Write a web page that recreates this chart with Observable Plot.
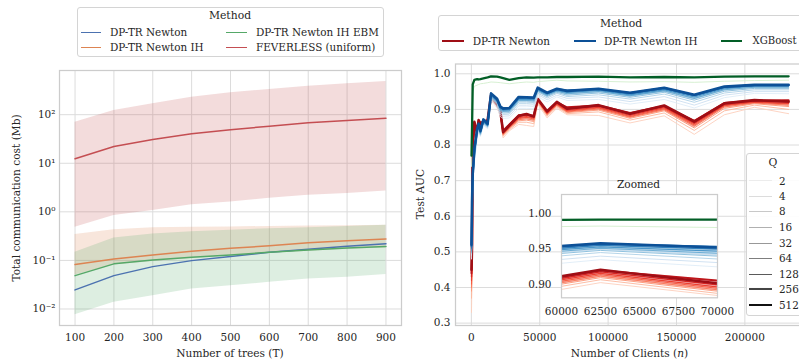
<!DOCTYPE html>
<html><head><meta charset="utf-8">
<script src="https://cdn.jsdelivr.net/npm/d3@7"></script>
<script src="https://cdn.jsdelivr.net/npm/@observablehq/plot@0.6"></script>
<style>
body{margin:0;background:#fff;}
#wrap{position:relative;width:799px;height:362px;overflow:hidden;font-family:"DejaVu Serif",serif;color:#262626;background:#fff}
#wrap svg{position:absolute;overflow:visible}
.t{position:absolute;white-space:nowrap;line-height:1;}
.box{position:absolute;border:1px solid #d4d4d4;border-radius:3px;background:rgba(255,255,255,0.9);box-sizing:border-box}
.ln{position:absolute;}
</style></head>
<body><div id="wrap"></div>
<script>
// ---------- Left panel data ----------
const trees = [100,200,300,400,500,600,700,800,900];
const newtonCost    = [0.0247,0.0486,0.0745,0.099,0.12,0.147,0.17,0.195,0.22];
const ihCost        = [0.082,0.107,0.13,0.154,0.178,0.20,0.23,0.255,0.277];
const ebmCost       = [0.0486,0.085,0.102,0.116,0.13,0.147,0.164,0.18,0.193];
const feverlessCost = [12.4,22.2,31,40.5,49,58,68,76,85];
const feverlessLo   = [0.48,0.84,1.06,1.4,1.6,1.9,2.2,2.4,2.7];
const feverlessHi   = [70,122,169,230,283,331,383,436,485];
const ihLo          = [0.05,0.08,0.095,0.11,0.125,0.14,0.155,0.17,0.18];
const ihHi          = [0.34,0.43,0.47,0.48,0.49,0.50,0.51,0.52,0.53];
const ebmLo         = [0.0076,0.0137,0.0188,0.0258,0.030,0.0354,0.0415,0.045,0.051];
const ebmHi         = [0.147,0.29,0.35,0.39,0.42,0.45,0.47,0.50,0.53];
const costTicks      = [0.01,0.1,1,10,100];
const costTickLabels = ["10\u207B\u00B2","10\u207B\u00B9","10\u2070","10\u00B9","10\u00B2"];
const leftMethods = ["DP-TR Newton","DP-TR Newton IH","DP-TR Newton IH EBM","FEVERLESS (uniform)"];

// ---------- Right panel data ----------
const clients = [100,500,1000,2200,4200,5300,6600,8800,11900,14400,18800,21200,23200,27800,34600,40300,45600,48500,55400,62500,70000,93000,116000,141000,163000,185000,207000,232000];
const qValues = [2,4,8,16,32,64,128,256,512];
const newtonQ512 = [.450,.520,.800,.865,.835,.870,.860,.865,.870,.940,.915,.895,.836,.855,.882,.887,.880,.930,.895,.921,.902,.912,.888,.911,.866,.917,.926,.922];
const newtonQ256 = [.440,.515,.805,.862,.838,.868,.862,.866,.868,.938,.914,.893,.840,.858,.884,.886,.882,.928,.894,.920,.906,.911,.890,.910,.868,.918,.925,.926];
const newtonQ128 = [.430,.505,.795,.860,.840,.865,.858,.863,.866,.936,.912,.891,.838,.856,.880,.884,.879,.927,.892,.918,.900,.909,.886,.908,.863,.915,.924,.920];
const newtonQ64  = [.420,.500,.790,.858,.836,.866,.857,.862,.867,.935,.913,.890,.834,.852,.877,.880,.876,.926,.890,.916,.897,.906,.883,.905,.860,.912,.921,.917];
const newtonQ32  = [.410,.495,.792,.857,.832,.864,.855,.860,.864,.934,.911,.888,.832,.850,.874,.878,.873,.925,.888,.914,.895,.904,.880,.902,.856,.910,.920,.915];
const newtonQ16  = [.400,.490,.788,.855,.830,.862,.854,.859,.866,.932,.910,.887,.830,.848,.871,.874,.870,.923,.886,.912,.893,.901,.878,.899,.853,.907,.918,.912];
const newtonQ8   = [.390,.480,.785,.854,.828,.863,.852,.858,.865,.931,.909,.885,.828,.846,.868,.870,.866,.921,.884,.910,.891,.898,.875,.896,.848,.903,.916,.908];
const newtonQ4   = [.370,.470,.782,.852,.825,.861,.851,.856,.864,.929,.907,.883,.825,.843,.864,.864,.860,.919,.881,.907,.888,.893,.870,.890,.841,.896,.912,.900];
const newtonQ2   = [.330,.450,.780,.850,.820,.860,.850,.855,.865,.925,.905,.880,.820,.840,.858,.855,.852,.915,.876,.903,.885,.883,.862,.882,.830,.885,.906,.888];
const ihQ512 = [.520,.640,.720,.790,.845,.860,.840,.872,.860,.945,.930,.908,.903,.904,.935,.934,.933,.961,.947,.958,.952,.958,.947,.961,.941,.964,.969,.969];
const ihQ256 = [.515,.630,.715,.785,.842,.857,.838,.870,.858,.943,.928,.906,.902,.903,.933,.933,.932,.959,.946,.957,.953,.957,.946,.960,.940,.963,.968,.968];
const ihQ128 = [.510,.620,.710,.780,.840,.855,.836,.868,.856,.941,.926,.904,.900,.901,.931,.931,.930,.957,.944,.955,.950,.955,.944,.958,.938,.961,.967,.967];
const ihQ64  = [.505,.610,.705,.775,.836,.852,.834,.866,.855,.939,.924,.901,.897,.898,.928,.928,.927,.955,.942,.953,.947,.953,.941,.955,.935,.958,.965,.965];
const ihQ32  = [.500,.600,.700,.770,.833,.850,.832,.864,.853,.937,.921,.898,.894,.895,.925,.925,.924,.953,.939,.951,.944,.950,.938,.952,.931,.955,.962,.962];
const ihQ16  = [.500,.590,.695,.765,.830,.848,.830,.862,.852,.935,.918,.895,.890,.891,.921,.921,.920,.950,.936,.948,.940,.946,.934,.948,.926,.951,.959,.959];
const ihQ8   = [.495,.580,.690,.760,.826,.845,.828,.860,.850,.932,.914,.891,.886,.887,.916,.916,.915,.946,.932,.945,.936,.941,.929,.943,.920,.946,.955,.955];
const ihQ4   = [.490,.570,.685,.755,.822,.842,.826,.858,.848,.929,.910,.886,.881,.882,.910,.910,.909,.942,.927,.940,.931,.935,.922,.936,.912,.940,.950,.950];
const ihQ2   = [.480,.560,.680,.750,.818,.840,.824,.855,.846,.925,.905,.880,.875,.876,.903,.903,.902,.936,.921,.935,.925,.928,.915,.928,.904,.933,.945,.944];
const xgbQ512 = [.770,.850,.970,.983,.985,.984,.985,.987,.990,.993,.992,.990,.988,.983,.988,.990,.989,.990,.990,.991,.991,.992,.990,.991,.990,.992,.993,.993];
const xgbQ2   = [.740,.830,.950,.965,.968,.970,.972,.973,.975,.977,.976,.975,.974,.972,.975,.977,.976,.978,.980,.982,.980,.979,.977,.978,.976,.979,.981,.982];
const clientTicks = [0,50000,100000,150000,200000];
const aucTicks = [0.3,0.4,0.5,0.6,0.7,0.8,0.9,1.0];
const zoomXTicks = [60000,62500,65000,67500,70000];
const zoomYTicks = [0.90,0.95,1.00];
const rightMethods = ["DP-TR Newton","DP-TR Newton IH","XGBoost"];

// ---------- styles ----------
const deep = ["#4c72b0","#dd8452","#55a868","#c44e52"];
const redColors  = qValues.map((q,i)=>d3.interpolateReds(0.18 + i*0.0875));
const blueColors = qValues.map((q,i)=>d3.interpolateBlues(0.12 + i*0.095));
const greenDark = d3.interpolateGreens(0.92), greenLight = d3.interpolateGreens(0.2);
const qWidths = [0.9,0.9,0.95,1.0,1.05,1.15,1.35,1.9,2.6];
const qGreys = ["#ececec","#dcdcdc","#c8c8c8","#b0b0b0","#989898","#7e7e7e","#5a5a5a","#444444","#111111"];
const gridC = "#dcdcdc", frameC = "#cccccc";
const FONT = "DejaVu Serif";
const LEG = 10.4;

const wrap = document.getElementById("wrap");
function place(svg, left, top){ svg.style.left = left+"px"; svg.style.top = top+"px"; wrap.appendChild(svg); }
function text(html, x, y, opts={}){
  const d = document.createElement("div"); d.className="t"; d.innerHTML = html;
  d.style.left = x+"px"; d.style.top = y+"px"; d.style.fontSize = (opts.size||10.6)+"px";
  const ax = opts.anchor==="start" ? "0" : "-50%";
  d.style.transform = `translate(${ax},-50%)` + (opts.rotate ? " rotate(-90deg)" : "");
  wrap.appendChild(d); return d;
}
function box(x,y,w,h){ const d=document.createElement("div"); d.className="box"; Object.assign(d.style,{left:x+"px",top:y+"px",width:w+"px",height:h+"px"}); wrap.appendChild(d); }
function seg(x1,x2,y,color,w){ const d=document.createElement("div"); d.className="ln"; Object.assign(d.style,{left:x1+"px",top:(y-w/2)+"px",width:(x2-x1)+"px",height:w+"px",background:color}); wrap.appendChild(d); }

// ---------- Left plot ----------
const costRows = trees.map((t,i)=>({t, newton:newtonCost[i], ih:ihCost[i], ebm:ebmCost[i], fev:feverlessCost[i],
  fevLo:feverlessLo[i], fevHi:feverlessHi[i], ihLo:ihLo[i], ihHi:ihHi[i], ebmLo:ebmLo[i], ebmHi:ebmHi[i]}));
const leftPlot = Plot.plot({
  width: 410, height: 362, marginLeft: 59, marginRight: 9, marginTop: 70, marginBottom: 37,
  style: {fontFamily: FONT, fontSize: "10.5px", color: "#262626", background: "transparent"},
  x: {domain: [60, 940], ticks: trees, tickSize: 0, tickPadding: 8, label: null},
  y: {type: "log", domain: [Math.pow(10,-2.34), Math.pow(10,2.91)], ticks: costTicks,
      tickFormat: d => costTickLabels[costTicks.indexOf(d)], tickSize: 0, tickPadding: 4, label: null},
  marks: [
    Plot.ruleX(trees, {stroke: gridC, strokeWidth: 1}),
    Plot.ruleY(costTicks, {stroke: gridC, strokeWidth: 1}),
    Plot.areaY(costRows, {x:"t", y1:"fevLo", y2:"fevHi", fill: deep[3], fillOpacity: 0.2}),
    Plot.areaY(costRows, {x:"t", y1:"ihLo", y2:"ihHi", fill: deep[1], fillOpacity: 0.2}),
    Plot.areaY(costRows, {x:"t", y1:"ebmLo", y2:"ebmHi", fill: deep[2], fillOpacity: 0.2}),
    Plot.line(costRows, {x:"t", y:"newton", stroke: deep[0], strokeWidth: 1.5}),
    Plot.line(costRows, {x:"t", y:"ih", stroke: deep[1], strokeWidth: 1.5}),
    Plot.line(costRows, {x:"t", y:"ebm", stroke: deep[2], strokeWidth: 1.5}),
    Plot.line(costRows, {x:"t", y:"fev", stroke: deep[3], strokeWidth: 1.5}),
    Plot.frame({stroke: frameC, strokeWidth: 1.25})
  ]
});
place(leftPlot, 0, 0);

// ---------- Right plot ----------
const newtonSeries = [newtonQ2,newtonQ4,newtonQ8,newtonQ16,newtonQ32,newtonQ64,newtonQ128,newtonQ256,newtonQ512];
const ihSeries = [ihQ2,ihQ4,ihQ8,ihQ16,ihQ32,ihQ64,ihQ128,ihQ256,ihQ512];
const rows = arr => clients.map((n,i)=>({n, v: arr[i]}));
const spread = list => clients.map((n,i)=>({n, lo: d3.min(list, s=>s[i]), hi: d3.max(list, s=>s[i])}));
const newtonSpread = spread(newtonSeries.slice(2));
const ihSpread = spread(ihSeries.slice(3));
function seriesMarks(clip){
  const m = [];
  m.push(Plot.areaY(newtonSpread, {x:"n", y1:"lo", y2:"hi", fill: redColors[6], fillOpacity: 0.3, clip}));
  newtonSeries.forEach((a,i)=>m.push(Plot.line(rows(a), {x:"n", y:"v", stroke: redColors[i], strokeWidth: qWidths[i], strokeLinejoin:"round", clip})));
  m.push(Plot.areaY(ihSpread, {x:"n", y1:"lo", y2:"hi", fill: blueColors[6], fillOpacity: 0.25, clip}));
  ihSeries.forEach((a,i)=>m.push(Plot.line(rows(a), {x:"n", y:"v", stroke: blueColors[i], strokeWidth: qWidths[i], strokeLinejoin:"round", clip})));
  m.push(Plot.line(rows(xgbQ2), {x:"n", y:"v", stroke: greenLight, strokeWidth: qWidths[0], clip}));
  m.push(Plot.line(rows(xgbQ512), {x:"n", y:"v", stroke: greenDark, strokeWidth: 2.3, clip}));
  return m;
}
const rightPlot = Plot.plot({
  width: 420, height: 362, marginLeft: 55, marginRight: 16, marginTop: 63.5, marginBottom: 37,
  style: {fontFamily: FONT, fontSize: "10.5px", color: "#262626", background: "transparent"},
  x: {domain: [-11600, 243600], ticks: clientTicks, tickFormat: d => String(d), tickSize: 0, tickPadding: 8, label: null},
  y: {domain: [0.2933, 1.0275], ticks: aucTicks, tickFormat: d3.format(".1f"), tickSize: 0, tickPadding: 5, label: null},
  marks: [
    Plot.ruleX(clientTicks, {stroke: gridC, strokeWidth: 1}),
    Plot.ruleY(aucTicks, {stroke: gridC, strokeWidth: 1}),
    ...seriesMarks(false),
    Plot.frame({stroke: frameC, strokeWidth: 1.25})
  ]
});
place(rightPlot, 400, 0);

// ---------- Inset ----------
const insetPlot = Plot.plot({
  width: 226, height: 133.3, marginLeft: 45, marginRight: 25, marginTop: 5, marginBottom: 25,
  style: {fontFamily: FONT, fontSize: "10.5px", color: "#262626", background: "transparent"},
  x: {domain: [60000, 70000], ticks: zoomXTicks, tickFormat: d => String(d), tickSize: 0, tickPadding: 10, label: null},
  y: {domain: [0.8818, 1.0261], ticks: zoomYTicks, tickFormat: d3.format(".2f"), tickSize: 0, tickPadding: 10, label: null},
  marks: [
    Plot.frame({fill: "white", stroke: null}),
    ...seriesMarks(true),
    Plot.frame({stroke: frameC, strokeWidth: 1.25})
  ]
});
place(insetPlot, 515.7, 189);
text("Zoomed", 638.5, 184, {size: 10.6});

// ---------- Axis titles ----------
text("Total communication cost (Mb)", 16, 197.5, {rotate: true});
text("Number of trees (T)", 230, 352.7);
text("Test AUC", 420, 194, {rotate: true});
text("Number of Clients (<i>n</i>)", 629.5, 352.7);

// ---------- Left legend ----------
box(76.7, 6.7, 307.3, 50.6);
text("Method", 230, 15.7, {size: 10.8});
const leftLeg = [[81,101,32.3,110],[81,101,47.3,110],[226,247,32.3,256],[226,247,47.3,256]];
const leftLegColor = [deep[0], deep[1], deep[2], deep[3]];
leftMethods.forEach((m,i)=>{ const [a,b,y,tx]=leftLeg[i]; seg(a,b,y,leftLegColor[i],1.6); text(m, tx, y, {anchor:"start", size: LEG}); });

// ---------- Right legend ----------
box(438.3, 15, 400, 35.7);
text("Method", 621, 24, {size: 10.8});
const rightLeg = [[442.3,464.3,472.7,LEG],[574,596,604,LEG],[720.5,742,752.5,10.1]];
const rightLegColor = [redColors[8], blueColors[8], greenDark];
rightMethods.forEach((m,i)=>{ const [a,b,tx,fs]=rightLeg[i]; seg(a,b,41,rightLegColor[i],1.5); text(m, tx, 41, {anchor:"start", size: fs}); });

// ---------- Q legend ----------
box(746, 153.3, 80, 162.7);
text("Q", 773, 163.3, {size: 10.8});
const qY = [180.7,196,211,227.3,243.3,258.3,274.3,289.3,305];
qValues.forEach((q,i)=>{ seg(749.3,771.7,qY[i],qGreys[i],qWidths[i]); text(String(q), 779, qY[i], {anchor:"start", size: LEG}); });
</script></body></html>
